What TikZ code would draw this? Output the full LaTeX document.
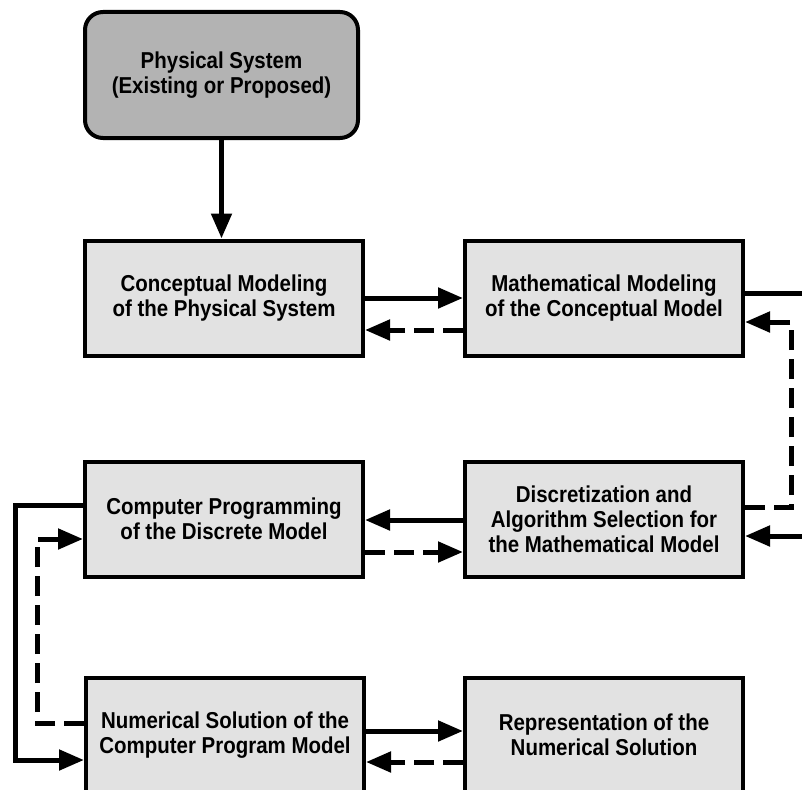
\documentclass[tikz,border=0pt]{standalone}
\usepackage{fontspec}
\setmainfont{Liberation Sans}[FakeStretch=0.89]
\usetikzlibrary{arrows.meta}
\definecolor{physgray}{HTML}{B3B3B3}
\definecolor{boxgray}{HTML}{E2E2E2}
\begin{document}
\begin{tikzpicture}[x=1pt,y=-1pt,
  every node/.style={font=\bfseries\fontsize{23}{25}\selectfont, align=center, inner sep=0pt},
  stagebox/.style={draw=black, line width=4pt, fill=boxgray, minimum width=278pt, minimum height=115pt},
  physbox/.style={draw=black, line width=4pt, fill=physgray, rounded corners=18pt, minimum width=273pt, minimum height=126pt},
  sol/.style={line width=5pt, -{Triangle[length=25pt,width=20pt]}},
  dsh/.style={line width=5pt, dash pattern=on 20pt off 9pt, -{Triangle[length=25pt,width=20pt]}}
]
\useasboundingbox (0,0) rectangle (802,789);
\clip (0,0) rectangle (802,789);

\node[physbox] (phys) at (221.5,75) {Physical System\\(Existing or Proposed)};
\node[stagebox] (concept) at (224,298) {Conceptual Modeling\\of the Physical System};
\node[stagebox] (math) at (604,298) {Mathematical Modeling\\of the Conceptual Model};
\node[stagebox] (comp) at (224,519) {Computer Programming\\of the Discrete Model};
\node[stagebox] (disc) at (604,519) {Discretization and\\Algorithm Selection for\\the Mathematical Model};
\node[stagebox] (num) at (225,735) {Numerical Solution of the\\Computer Program Model};
\node[stagebox] (rep) at (604,735) {Representation of the\\Numerical Solution};

\coordinate (offright) at (820,293);
\coordinate (offrightlow) at (820,536);

\draw[sol] (phys.south) -- (phys.south |- concept.north);
\draw[sol] (concept.east |- 0,298) -- (math.west |- 0,298);
\draw[dsh] (math.west |- 0,330) -- (concept.east |- 0,330);
\draw[sol] (math.east |- 0,293) -- (offright) -- (offrightlow) -- (disc.east |- 0,536);
\draw[dsh] (disc.east |- 0,507) -- (791,507) -- (791,322) -- (math.east |- 0,322);
\draw[sol] (disc.west |- 0,520) -- (comp.east |- 0,520);
\draw[dsh] (comp.east |- 0,552) -- (disc.west |- 0,552);
\draw[sol] (comp.west |- 0,505) -- (15,505) -- (15,760) -- (num.west |- 0,760);
\draw[dsh] (num.west |- 0,723) -- (37,723) -- (37,539) -- (comp.west |- 0,539);
\draw[sol] (num.east |- 0,731) -- (rep.west |- 0,731);
\draw[dsh] (rep.west |- 0,762) -- (num.east |- 0,762);
\end{tikzpicture}
\end{document}
